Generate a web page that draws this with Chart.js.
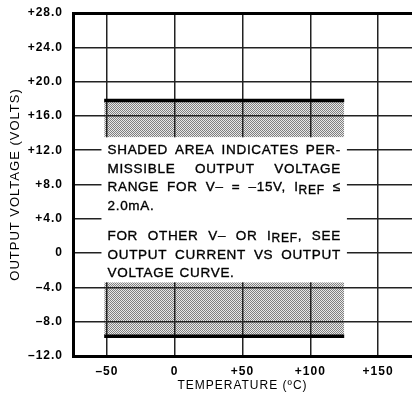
<!DOCTYPE html>
<html>
<head>
<meta charset="utf-8">
<script src="https://cdn.jsdelivr.net/npm/chart.js@4/dist/chart.umd.min.js"></script>
<style>
  html, body { margin: 0; padding: 0; background: #fff; }
</style>
</head>
<body>
<canvas id="chart" width="412" height="400"></canvas>
<script>
// temperature axis (ºC) and voltage axis (volts)
const tempTicks = [-75, -50, 0, 50, 100, 150, 175]
const tempLabels = ['', '–50', '0', '+50', '+100', '+150', '']
const voltTicks = [-12, -8, -4, 0, 4, 8, 12, 16, 20, 24, 28]

// permissible output range bands
const bandTemps = [-52, 125]
const upperLimit = [17.8, 17.8]
const upperShadeEdge = [13.5, 13.5]
const lowerShadeEdge = [-3.4, -3.4]
const lowerLimit = [-9.7, -9.7]

const noteParagraphs = [
  ['SHADED AREA INDICATES PER-', 'MISSIBLE OUTPUT VOLTAGE', 'RANGE FOR V– = –15V, IREF ≤', '2.0mA.'],
  ['FOR OTHER V– OR IREF, SEE', 'OUTPUT CURRENT VS OUTPUT', 'VOLTAGE CURVE.']
]

const FONT = '"Liberation Sans", Arial, sans-serif'

function points(ys) {
  return bandTemps.map((t, i) => ({x: t, y: ys[i]}))
}

function stipple() {
  const c = document.createElement('canvas')
  c.width = 2
  c.height = 2
  const g = c.getContext('2d')
  g.fillStyle = '#e8e8e8'
  g.fillRect(0, 0, 2, 2)
  g.fillStyle = '#808080'
  g.fillRect(0, 0, 1, 1)
  g.fillRect(1, 1, 1, 1)
  return document.getElementById('chart').getContext('2d').createPattern(c, 'repeat')
}

function parts(word) {
  const i = word.indexOf('IREF')
  if (i < 0) return [{t: word, sub: false}]
  return [{t: word.slice(0, i) + 'I', sub: false}, {t: 'REF', sub: true}, {t: word.slice(i + 4), sub: false}]
}

function setFont(ctx, sub) {
  ctx.font = (sub ? '12px ' : '13.5px ') + FONT
}

function wordWidth(ctx, word) {
  return parts(word).reduce((acc, p) => {
    setFont(ctx, p.sub)
    return acc + ctx.measureText(p.t).width
  }, 0)
}

function drawWord(ctx, word, x, y) {
  parts(word).forEach(p => {
    setFont(ctx, p.sub)
    const ty = p.sub ? y + 3 : y
    ctx.fillText(p.t, x, ty)
    ctx.strokeText(p.t, x, ty)
    x += ctx.measureText(p.t).width
  })
}

function drawLine(ctx, line, x0, x1, y, justify) {
  const words = line.split(' ')
  const widths = words.map(w => wordWidth(ctx, w))
  const total = widths.reduce((a, b) => a + b, 0)
  setFont(ctx, false)
  let gap = ctx.measureText(' ').width + 1
  if (justify && words.length > 1) gap = (x1 - x0 - total) / (words.length - 1)
  let x = x0
  words.forEach((w, i) => {
    drawWord(ctx, w, x, y)
    x += widths[i] + gap
  })
}

const notePlugin = {
  id: 'note',
  beforeDraw(chart) {
    chart.ctx.letterSpacing = '1px'
  },
  afterDatasetsDraw(chart) {
    const {ctx, scales: {x, y}} = chart
    const left = x.getPixelForValue(-54)
    const right = x.getPixelForValue(127)
    const top = y.getPixelForValue(upperShadeEdge[0])
    const bottom = y.getPixelForValue(lowerShadeEdge[0])
    ctx.save()
    ctx.fillStyle = '#fff'
    ctx.fillRect(left, top, right - left, bottom - top)
    ctx.fillStyle = '#000'
    ctx.strokeStyle = '#000'
    ctx.lineWidth = 0.35
    ctx.textBaseline = 'middle'
    ctx.textAlign = 'left'
    ctx.letterSpacing = '0.7px'
    let lineY = top + 13
    noteParagraphs.forEach(para => {
      para.forEach((line, i) => {
        drawLine(ctx, line, left + 6, right - 6, lineY, i < para.length - 1)
        lineY += 18.7
      })
      lineY += 11
    })
    ctx.restore()
  }
}

const shade = stipple()

new Chart(document.getElementById('chart'), {
  type: 'line',
  data: {
    datasets: [
      {data: points(upperLimit), borderColor: '#000', borderWidth: 3.5, backgroundColor: shade, fill: '+1', pointRadius: 0},
      {data: points(upperShadeEdge), borderWidth: 0, pointRadius: 0, fill: false},
      {data: points(lowerShadeEdge), borderWidth: 0, backgroundColor: shade, fill: '+1', pointRadius: 0},
      {data: points(lowerLimit), borderColor: '#000', borderWidth: 3.5, pointRadius: 0, fill: false}
    ]
  },
  options: {
    responsive: false,
    animation: false,
    layout: {padding: {top: 13, right: 0, left: 0, bottom: 0}},
    plugins: {
      legend: {display: false},
      tooltip: {enabled: false},
      filler: {drawTime: 'beforeDraw'}
    },
    scales: {
      x: {
        type: 'linear',
        min: tempTicks[0],
        max: tempTicks[tempTicks.length - 1],
        afterBuildTicks: s => { s.ticks = tempTicks.map(v => ({value: v})) },
        afterFit: s => { s.height = 44; s.paddingLeft = 0; s.paddingRight = 0 },
        grid: {
          color: '#222',
          drawTicks: false,
          lineWidth: c => (c.tick && (c.tick.value === tempTicks[0] || c.tick.value === tempTicks[tempTicks.length - 1])) ? 0 : 1.5
        },
        border: {color: '#000', width: 3},
        ticks: {
          autoSkip: false,
          maxRotation: 0,
          padding: 8,
          color: '#000',
          font: {family: FONT, size: 12, weight: 'bold'},
          callback: (v, i) => tempLabels[i]
        },
        title: {display: true, text: 'TEMPERATURE (ºC)', color: '#000', font: {family: FONT, size: 12}, padding: {top: 0, bottom: 7}}
      },
      y: {
        min: voltTicks[0],
        max: voltTicks[voltTicks.length - 1],
        afterBuildTicks: s => { s.ticks = voltTicks.map(v => ({value: v})) },
        afterFit: s => { s.width = 73; s.paddingTop = 0; s.paddingBottom = 0 },
        grid: {
          color: c => (c.tick && c.tick.value === 28) ? '#000' : '#222',
          drawTicks: false,
          lineWidth: c => (c.tick && c.tick.value === 28) ? 3 : (c.tick && c.tick.value === -12 ? 0 : 1.5)
        },
        border: {color: '#000', width: 3},
        ticks: {
          padding: 10,
          color: '#000',
          font: {family: FONT, size: 12, weight: 'bold'},
          callback: v => v === 0 ? '0' : (v > 0 ? '+' : '–') + Math.abs(v).toFixed(1)
        },
        title: {display: true, text: 'OUTPUT VOLTAGE (VOLTS)', color: '#000', font: {family: FONT, size: 13}, padding: {top: 8, bottom: 0}}
      }
    }
  },
  plugins: [notePlugin]
})
</script>
</body>
</html>
